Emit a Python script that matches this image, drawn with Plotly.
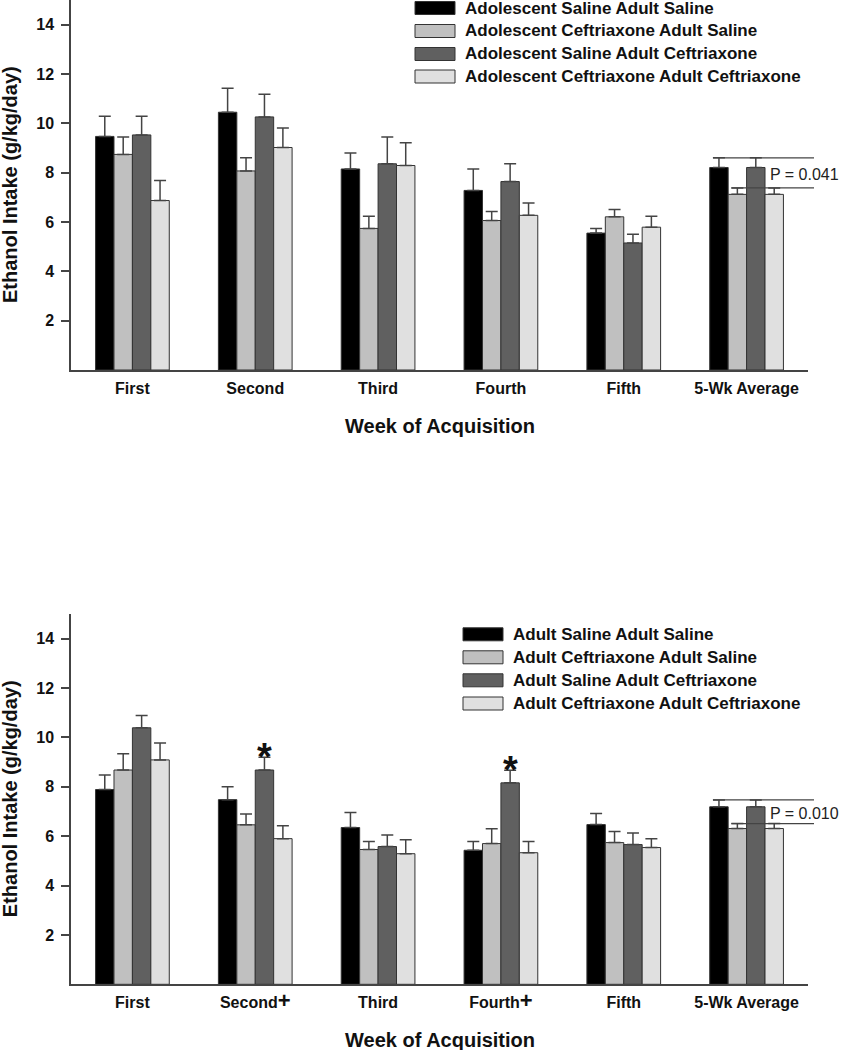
import plotly.graph_objects as go

# ---------------- data ----------------
weeks = ["First", "Second", "Third", "Fourth", "Fifth", "5-Wk Average"]
weeks_bot_marks = ["", "+", "", "+", "", ""]

top_names = ["Adolescent Saline Adult Saline",
             "Adolescent Ceftriaxone Adult Saline",
             "Adolescent Saline Adult Ceftriaxone",
             "Adolescent Ceftriaxone Adult Ceftriaxone"]
top_ss = [9.47, 10.45, 8.15, 7.28, 5.55, 8.21]
top_cs = [8.74, 8.07, 5.74, 6.06, 6.21, 7.12]
top_sc = [9.53, 10.26, 8.36, 7.64, 5.15, 8.21]
top_cc = [6.87, 9.02, 8.29, 6.27, 5.79, 7.12]
top_ss_sem = [0.82, 0.97, 0.65, 0.87, 0.19, 0.39]
top_cs_sem = [0.71, 0.53, 0.49, 0.37, 0.30, 0.26]
top_sc_sem = [0.76, 0.92, 1.09, 0.72, 0.35, 0.39]
top_cc_sem = [0.81, 0.79, 0.92, 0.50, 0.44, 0.26]
top_p = "P = 0.041"

bot_names = ["Adult Saline Adult Saline",
             "Adult Ceftriaxone Adult Saline",
             "Adult Saline Adult Ceftriaxone",
             "Adult Ceftriaxone Adult Ceftriaxone"]
bot_ss = [7.89, 7.48, 6.35, 5.43, 6.47, 7.19]
bot_cs = [8.68, 6.46, 5.46, 5.70, 5.74, 6.31]
bot_sc = [10.39, 8.68, 5.58, 8.16, 5.66, 7.19]
bot_cc = [9.09, 5.90, 5.29, 5.33, 5.54, 6.31]
bot_ss_sem = [0.59, 0.52, 0.61, 0.35, 0.45, 0.28]
bot_cs_sem = [0.66, 0.44, 0.32, 0.60, 0.45, 0.20]
bot_sc_sem = [0.50, 0.52, 0.47, 0.51, 0.47, 0.28]
bot_cc_sem = [0.68, 0.52, 0.57, 0.45, 0.36, 0.20]
bot_stars = [False, True, False, True, False, False]   # on Adult Saline Adult Ceftriaxone
bot_p = "P = 0.010"

y_ticks = [2, 4, 6, 8, 10, 12, 14]
y_max = 15

# ---------------- styling ----------------
W, H = 845, 1050
FONT = "Arial, Liberation Sans, sans-serif"
fills = ["#000000", "#c0c0c0", "#606060", "#e0e0e0"]
edge = "#333333"
axcol = "#444444"

x0px, x1px = 71, 808
top_y = (0.0, 370.0)      # pixel top (value 15), pixel bottom (value 0)
bot_y = (614.0, 984.3)

def pxx(p):
    return p / W

def pxy(p):
    return 1 - p / H

xdom = [pxx(x0px), pxx(x1px)]
dom_top = [pxy(top_y[1]), pxy(top_y[0])]
dom_bot = [pxy(bot_y[1]), pxy(bot_y[0])]

ncat = len(weeks)
bargap = 0.4
bw = (1 - bargap) / 4
offsets = [(-1.5 + i) * bw for i in range(4)]
cat_px = (x1px - x0px) / ncat

def cat_to_px(idx):
    return x0px + (idx + 0.5) * cat_px

def val_to_py(v, ypx):
    return ypx[1] - v / y_max * (ypx[1] - ypx[0])

fig = go.Figure()

def add_panel(names, means, sems, xa, ya):
    for i, (nm, m, s) in enumerate(zip(names, means, sems)):
        fig.add_trace(go.Bar(
            x=weeks, y=m, name=nm, xaxis=xa, yaxis=ya,
            marker=dict(color=fills[i], line=dict(color=edge, width=1)),
            error_y=dict(type="data", array=s, arrayminus=[0] * len(s), symmetric=False,
                         color=axcol, thickness=1.5, width=6),
            showlegend=False,
        ))

add_panel(top_names, [top_ss, top_cs, top_sc, top_cc],
          [top_ss_sem, top_cs_sem, top_sc_sem, top_cc_sem], "x", "y")
add_panel(bot_names, [bot_ss, bot_cs, bot_sc, bot_cc],
          [bot_ss_sem, bot_cs_sem, bot_sc_sem, bot_cc_sem], "x2", "y2")

shapes = []
annotations = []

def legend(names, sym_x0, text_x, y_centers):
    for i, nm in enumerate(names):
        yc = y_centers[i]
        y0 = max(yc - 6.5, 0.5)
        shapes.append(dict(type="rect", xref="paper", yref="paper",
                           x0=pxx(sym_x0), x1=pxx(sym_x0 + 40),
                           y0=pxy(yc + 6.5), y1=pxy(y0),
                           fillcolor=fills[i], line=dict(color=edge, width=1)))
        annotations.append(dict(xref="paper", yref="paper", x=pxx(text_x), y=pxy(yc),
                                xanchor="left", yanchor="middle", showarrow=False,
                                text="<b>" + nm + "</b>",
                                font=dict(family=FONT, size=17, color="#111111")))

legend(top_names, 415, 463, [8, 31, 54, 76.5])
legend(bot_names, 463, 511, [634.3, 657.3, 680.3, 703.5])

def bracket(means, sems, ypx, ptext):
    idx = ncat - 1
    hi = max(means[0][idx] + sems[0][idx], means[2][idx] + sems[2][idx])
    lo = max(means[1][idx] + sems[1][idx], means[3][idx] + sems[3][idx])
    xa = cat_to_px(idx + offsets[0]) - 6
    xb = cat_to_px(idx + offsets[1]) - 6
    xr = x1px + 6
    yh = val_to_py(hi, ypx)
    yl = val_to_py(lo, ypx)
    shapes.append(dict(type="line", xref="paper", yref="paper",
                       x0=pxx(xa), x1=pxx(xr), y0=pxy(yh), y1=pxy(yh),
                       line=dict(color=axcol, width=1.3)))
    shapes.append(dict(type="line", xref="paper", yref="paper",
                       x0=pxx(xb), x1=pxx(xr), y0=pxy(yl), y1=pxy(yl),
                       line=dict(color=axcol, width=1.3)))
    annotations.append(dict(xref="paper", yref="paper", x=pxx(cat_to_px(idx + offsets[2]) + 12),
                            y=pxy((yh + yl) / 2 + 2), xanchor="left", yanchor="middle",
                            showarrow=False, text=ptext,
                            font=dict(family=FONT, size=16, color="#222222")))

bracket([top_ss, top_cs, top_sc, top_cc], [top_ss_sem, top_cs_sem, top_sc_sem, top_cc_sem], top_y, top_p)
bracket([bot_ss, bot_cs, bot_sc, bot_cc], [bot_ss_sem, bot_cs_sem, bot_sc_sem, bot_cc_sem], bot_y, bot_p)

# asterisks
for i, st in enumerate(bot_stars):
    if st:
        top = bot_sc[i] + bot_sc_sem[i]
        annotations.append(dict(xref="x2", yref="y2", x=i + offsets[2], y=top,
                                xanchor="center", yanchor="middle", yshift=0,
                                showarrow=False, text="<b>*</b>",
                                font=dict(family=FONT, size=38, color="#111111")))

# axis titles
for ypx in (top_y, bot_y):
    annotations.append(dict(xref="paper", yref="paper", x=pxx(10), y=pxy((ypx[0] + ypx[1]) / 2),
                            xanchor="center", yanchor="middle", textangle=-90, showarrow=False,
                            text="<b>Ethanol Intake (g/kg/day)</b>",
                            font=dict(family=FONT, size=20, color="#111111")))
    annotations.append(dict(xref="paper", yref="paper", x=pxx((x0px + x1px) / 2),
                            y=pxy(ypx[1] + 56), xanchor="center", yanchor="middle", showarrow=False,
                            text="<b>Week of Acquisition</b>",
                            font=dict(family=FONT, size=20, color="#111111")))

bot_ticktext = ["<b>" + w + "</b>" + ("<b><span style='font-size:22px'>" + m + "</span></b>" if m else "")
                for w, m in zip(weeks, weeks_bot_marks)]
top_ticktext = ["<b>" + w + "</b>" for w in weeks]

xax = dict(domain=xdom, type="category", range=[-0.5, ncat - 0.5], showline=True,
           linecolor=axcol, linewidth=1.5, ticks="", showgrid=False, zeroline=False,
           tickfont=dict(family=FONT, size=16, color="#111111"), ticklabelstandoff=3,
           tickvals=weeks)
yax = dict(tickvals=y_ticks, ticktext=["<b>%d</b>" % t for t in y_ticks],
           showline=True, linecolor=axcol, linewidth=1.5, ticks="outside", ticklen=8,
           tickwidth=1.5, tickcolor=axcol, showgrid=False, zeroline=False,
           tickfont=dict(family=FONT, size=16, color="#111111"), ticklabelstandoff=4,
           range=[0, y_max])

fig.update_layout(
    width=W, height=H, margin=dict(l=0, r=0, t=0, b=0),
    paper_bgcolor="white", plot_bgcolor="white",
    barmode="group", bargap=bargap, bargroupgap=0,
    xaxis=dict(xax, anchor="y", ticktext=top_ticktext),
    yaxis=dict(yax, domain=dom_top, anchor="x"),
    xaxis2=dict(xax, anchor="y2", ticktext=bot_ticktext),
    yaxis2=dict(yax, domain=dom_bot, anchor="x2"),
    shapes=shapes, annotations=annotations, showlegend=False,
)

# remove the default page margin so the figure sits at the window's top-left corner
fig.write_html("out.html", config={"displayModeBar": False},
               post_script="document.body.style.margin='0';document.body.style.overflow='hidden';")
